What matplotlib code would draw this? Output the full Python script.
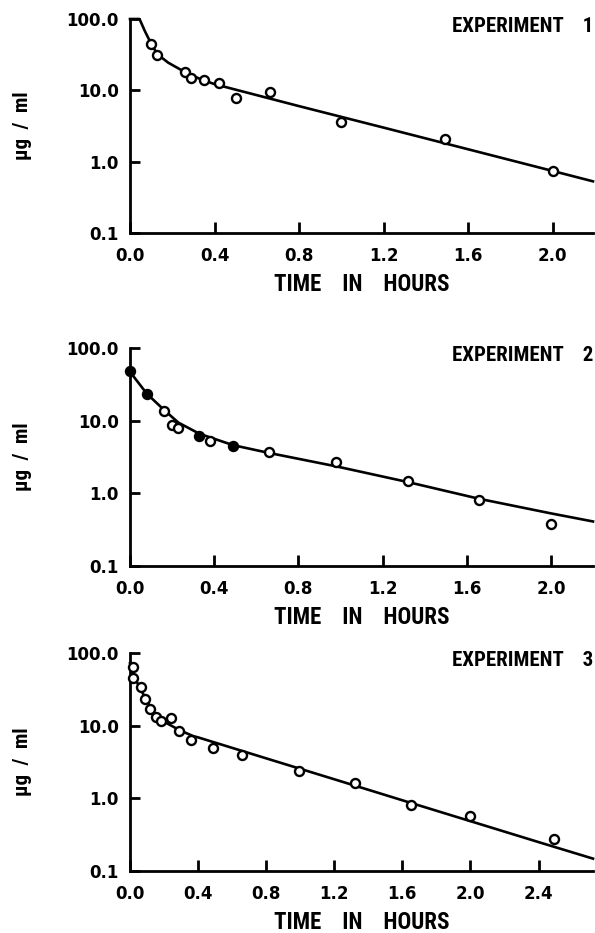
import matplotlib
matplotlib.use("Agg")
import matplotlib.pyplot as plt
from matplotlib import font_manager as fm
from matplotlib.ticker import FixedLocator, NullLocator

exp1_t = [0.10, 0.13, 0.26, 0.29, 0.35, 0.42, 0.50, 0.66, 1.00, 1.49, 2.00]
exp1_c = [45.0, 31.5, 18.0, 14.8, 14.0, 12.8, 7.8, 9.6, 3.6, 2.1, 0.74]
exp1_fit_t = [0.0, 0.045, 0.07, 0.10, 0.13, 0.18, 0.26, 0.33, 0.40, 0.80, 1.20, 1.60, 2.00, 2.19]
exp1_fit_c = [100, 100, 68, 45, 32, 24.5, 18.0, 14.5, 12.2, 6.0, 3.0, 1.49, 0.74, 0.53]

# Experiment 2
exp2_t = [0.0, 0.08, 0.16, 0.20, 0.23, 0.33, 0.38, 0.49, 0.66, 0.98, 1.32, 1.66, 2.00]
exp2_c = [48.0, 23.0, 13.5, 8.8, 7.9, 6.2, 5.2, 4.5, 3.7, 2.7, 1.5, 0.82, 0.38]
exp2_filled = [True, True, False, False, False, True, False, True, False, False, False, False, False]
exp2_fit_t = [0.0, 0.08, 0.16, 0.23, 0.33, 0.49, 0.66, 0.98, 1.32, 1.66, 2.00, 2.20]
exp2_fit_c = [47, 23.5, 14.2, 9.4, 6.6, 4.6, 3.6, 2.35, 1.43, 0.84, 0.53, 0.41]

# Experiment 3
exp3_t = [0.015, 0.02, 0.065, 0.09, 0.12, 0.155, 0.185, 0.24, 0.29, 0.36, 0.49, 0.66, 0.99, 1.32, 1.65, 2.00, 2.49]
exp3_c = [45.0, 64.0, 34.0, 23.5, 17.2, 13.0, 11.6, 12.6, 8.5, 6.4, 4.9, 3.9, 2.35, 1.62, 0.82, 0.58, 0.28]
exp3_fit_t = [0.0, 0.02, 0.05, 0.09, 0.135, 0.195, 0.29, 0.37, 0.40, 0.80, 1.20, 1.60, 2.00, 2.40, 2.72]
exp3_fit_c = [72, 50, 36, 24, 15.5, 11.5, 8.7, 7.2, 6.9, 3.55, 1.83, 0.94, 0.485, 0.25, 0.148]

y_ticks = [0.1, 1.0, 10.0, 100.0]
y_labels = ["0.1", "1.0", "10.0", "100.0"]
x_ticks_short = [0.0, 0.4, 0.8, 1.2, 1.6, 2.0]
x_ticks_long = [0.0, 0.4, 0.8, 1.2, 1.6, 2.0, 2.4]


def pick_label_font():
    # the labels are set in a condensed bold face; use one if the machine has it
    fonts = fm.fontManager.ttflist
    names = {f.name for f in fonts}
    for n in ["Liberation Sans Narrow", "Roboto Condensed", "Open Sans Condensed",
              "Noto Sans Condensed", "DejaVu Sans Condensed"]:
        if n in names:
            return [n, "DejaVu Sans"], True
    cond = sorted({f.name for f in fonts if f.stretch == "condensed"})
    if cond:
        return [cond[0], "DejaVu Sans"], True
    return ["Liberation Sans", "DejaVu Sans"], False


LABEL_FONT, IS_COND = pick_label_font()
TITLE_SIZE = 15 if IS_COND else 12.5
XLABEL_SIZE = 16.5 if IS_COND else 13.5
YLABEL_SIZE = 15 if IS_COND else 13
TICK_FONT = ["DejaVu Sans"]


def draw_panel(ax, pts_t, pts_c, fit_t, fit_c, xmax, xticks, title, filled=None):
    ax.set_yscale("log")
    ax.set_ylim(0.1, 100)
    ax.set_xlim(0, xmax)

    ax.plot(fit_t, fit_c, color="black", lw=1.9, clip_on=False, zorder=2)
    if filled is None:
        filled = [False] * len(pts_t)
    for t, c, f in zip(pts_t, pts_c, filled):
        ax.plot([t], [c], marker="o", ms=6.5, mew=1.7, mec="black",
                mfc="black" if f else "white", ls="none", zorder=3, clip_on=False)

    for side in ("top", "right"):
        ax.spines[side].set_visible(False)
    for side in ("left", "bottom"):
        ax.spines[side].set_linewidth(2.0)

    ax.yaxis.set_major_locator(FixedLocator(y_ticks))
    ax.yaxis.set_minor_locator(NullLocator())
    ax.set_yticklabels(y_labels)
    ax.set_xticks(xticks)
    ax.set_xticklabels(["%.1f" % v for v in xticks])

    ax.tick_params(axis="y", direction="in", length=7, width=2.0, pad=8)
    ax.tick_params(axis="x", direction="in", length=8, width=2.0, pad=10)
    for lab in ax.get_xticklabels() + ax.get_yticklabels():
        lab.set_family(TICK_FONT)
        lab.set_fontsize(12)
        lab.set_fontweight("bold")

    ax.set_xlabel("TIME    IN    HOURS", family=LABEL_FONT, fontsize=XLABEL_SIZE,
                  fontweight="bold", labelpad=6)
    ax.text(-108 / 463, 0.5, "\u03bcg  /  ml", transform=ax.transAxes, rotation=90,
            ha="center", va="center", family=LABEL_FONT, fontsize=YLABEL_SIZE,
            fontweight="bold")
    ax.text(1.0, 0.965, title, transform=ax.transAxes, ha="right", va="center",
            family=LABEL_FONT, fontsize=TITLE_SIZE, fontweight="bold")


fig = plt.figure(figsize=(5.95, 9.33), dpi=100)
left = 130 / 595
width = (593 - 130) / 595
ax1 = fig.add_axes([left, 1 - 233 / 933, width, 214 / 933])
ax2 = fig.add_axes([left, 1 - 566 / 933, width, 218 / 933])
ax3 = fig.add_axes([left, 1 - 871 / 933, width, 218 / 933])

draw_panel(ax1, exp1_t, exp1_c, exp1_fit_t, exp1_fit_c, 2.19, x_ticks_short, "EXPERIMENT    1")
draw_panel(ax2, exp2_t, exp2_c, exp2_fit_t, exp2_fit_c, 2.20, x_ticks_short, "EXPERIMENT    2",
           filled=exp2_filled)
draw_panel(ax3, exp3_t, exp3_c, exp3_fit_t, exp3_fit_c, 2.72, x_ticks_long, "EXPERIMENT    3")

fig.savefig("out.png", dpi=100, facecolor="white")
